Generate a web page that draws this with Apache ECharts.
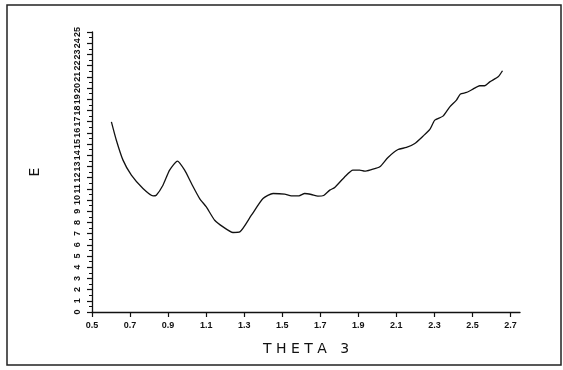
<!DOCTYPE html>
<html>
<head>
<meta charset="utf-8">
<script src="https://cdn.jsdelivr.net/npm/echarts@6/dist/echarts.min.js"></script>
<style>html,body{margin:0;padding:0;background:#fff}#c{width:563px;height:370px}</style>
</head>
<body>
<div id="c"></div>
<script>
const theta = [0.602,0.628,0.663,0.707,0.768,0.821,0.838,0.873,0.908,0.949,0.987,1.023,1.066,1.101,1.145,1.189,1.241,1.277,1.338,1.399,1.452,1.513,1.548,1.588,1.618,1.653,1.688,1.718,1.75,1.776,1.828,1.872,1.907,1.934,1.969,2.013,2.056,2.109,2.153,2.197,2.24,2.276,2.302,2.345,2.381,2.416,2.437,2.468,2.503,2.538,2.564,2.591,2.635,2.658];
const energy = [16.98,15.34,13.56,12.22,11.03,10.37,10.43,11.32,12.66,13.47,12.66,11.47,10.13,9.38,8.19,7.6,7.1,7.15,8.64,10.13,10.58,10.52,10.37,10.37,10.58,10.49,10.34,10.40,10.88,11.12,12.06,12.66,12.66,12.57,12.72,12.96,13.8,14.51,14.69,15.05,15.7,16.3,17.13,17.49,18.32,18.92,19.46,19.6,19.9,20.2,20.2,20.55,21.0,21.54];
const xTicks = [0.5,0.7,0.9,1.1,1.3,1.5,1.7,1.9,2.1,2.3,2.5,2.7];
const yTicks = [0,1,2,3,4,5,6,7,8,9,10,11,12,13,14,15,16,17,18,19,20,21,22,23,24,25];

const chart = echarts.init(document.getElementById('c'));
chart.setOption({
  animation: false,
  backgroundColor: '#fff',
  grid: {left: 92, right: 43, top: 32, bottom: 58},
  graphic: [{
    type: 'rect', shape: {x: 7, y: 5, width: 554, height: 360},
    style: {fill: 'none', stroke: '#222', lineWidth: 1.5}, z: -1
  }],
  xAxis: {
    type: 'value', min: 0.5, max: 2.75,
    name: 'T H E T A   3', nameLocation: 'middle', nameGap: 30,
    nameTextStyle: {fontFamily: 'DejaVu Sans', fontSize: 14, color: '#111'},
    axisLine: {lineStyle: {color: '#111', width: 1.3}},
    axisTick: {customValues: xTicks, length: 5, lineStyle: {color: '#111', width: 1.2}},
    minorTick: {show: false},
    axisLabel: {customValues: xTicks, formatter: v => v.toFixed(1), margin: 9,
      fontFamily: 'Liberation Sans', fontWeight: 'bold', fontSize: 9, color: '#111'},
    splitLine: {show: false}
  },
  yAxis: {
    type: 'value', min: 0, max: 25, interval: 1,
    name: 'E', nameLocation: 'middle', nameGap: 50, nameRotate: 90,
    nameTextStyle: {fontFamily: 'DejaVu Sans', fontSize: 14, color: '#111'},
    axisLine: {lineStyle: {color: '#111', width: 1.3}},
    axisTick: {length: 5, lineStyle: {color: '#111', width: 1.2}},
    minorTick: {show: true, splitNumber: 2, length: 3, lineStyle: {color: '#111', width: 1}},
    axisLabel: {rotate: 90, interval: 0, margin: 10, hideOverlap: false,
      fontFamily: 'Liberation Sans Narrow, Liberation Sans', fontWeight: 'bold', fontSize: 9, color: '#111'},
    splitLine: {show: false}
  },
  series: [{
    type: 'line', data: theta.map((t, i) => [t, energy[i]]),
    showSymbol: false, smooth: 0.2,
    lineStyle: {color: '#111', width: 1.3}
  }]
});
</script>
</body>
</html>
